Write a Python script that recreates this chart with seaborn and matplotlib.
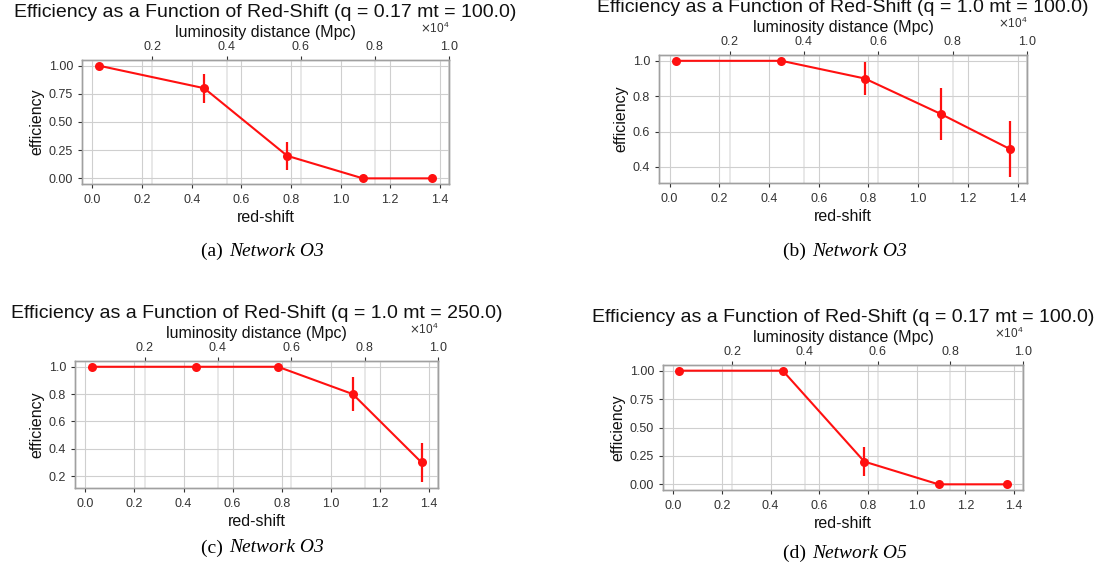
import numpy as np
import pandas as pd
import matplotlib
matplotlib.use("Agg")
import matplotlib.pyplot as plt
from matplotlib.ticker import MultipleLocator, ScalarFormatter
import seaborn as sns

# red-shift bins (same for every panel)
redshift = [0.025, 0.45, 0.785, 1.09, 1.37]

# efficiency values and error bars
eff_a = [1.0, 0.8, 0.2, 0.0, 0.0]
err_a = [0.0, 0.13, 0.125, 0.0, 0.0]
eff_b = [1.0, 1.0, 0.9, 0.7, 0.5]
err_b = [0.0, 0.0, 0.095, 0.145, 0.158]
eff_c = [1.0, 1.0, 1.0, 0.8, 0.3]
err_c = [0.0, 0.0, 0.0, 0.126, 0.145]
eff_d = [1.0, 1.0, 0.2, 0.0, 0.0]
err_d = [0.0, 0.0, 0.126, 0.0, 0.0]

titles = [
    "Efficiency as a Function of Red-Shift (q = 0.17 mt = 100.0)",
    "Efficiency as a Function of Red-Shift (q = 1.0 mt = 100.0)",
    "Efficiency as a Function of Red-Shift (q = 1.0 mt = 250.0)",
    "Efficiency as a Function of Red-Shift (q = 0.17 mt = 100.0)",
]
captions = [("(a)", "Network O3"), ("(b)", "Network O3"),
            ("(c)", "Network O3"), ("(d)", "Network O5")]
ystep = [0.25, 0.2, 0.2, 0.25]

# top axis range (luminosity distance, Mpc)
dl_range = (100, 10000)

sns.set_theme(style="whitegrid", rc={
    "axes.edgecolor": "#a0a0a0",
    "axes.linewidth": 1.0,
    "grid.color": "#cfcfcf",
    "grid.linewidth": 0.8,
    "xtick.bottom": True,
    "ytick.left": True,
    "xtick.major.size": 3,
    "ytick.major.size": 3,
    "xtick.major.width": 0.8,
    "ytick.major.width": 0.8,
    "xtick.color": "#333333",
    "ytick.color": "#333333",
    "text.color": "#111111",
    "axes.labelcolor": "#111111",
})
plt.rcParams["font.family"] = ["Liberation Sans", "DejaVu Sans"]

fig = plt.figure(figsize=(11.13, 5.76), dpi=100)
W, H = 1113, 576

# axes boxes in pixels: left, top, right, bottom
boxes = [(82, 60, 449, 184), (659, 55, 1027, 183),
         (75, 361, 438, 488), (663, 365, 1023, 490)]
data = [(eff_a, err_a), (eff_b, err_b), (eff_c, err_c), (eff_d, err_d)]
cap_pos = [(228, 251), (811, 251), (228, 548), (811, 553)]

for i in range(4):
    l, t, r, b = boxes[i]
    ax = fig.add_axes([l / W, (H - b) / H, (r - l) / W, (b - t) / H])
    eff, err = data[i]
    df = pd.DataFrame({"red-shift": redshift, "efficiency": eff})
    sns.lineplot(data=df, x="red-shift", y="efficiency", ax=ax, color="#ff1010",
                 marker="o", markersize=6.5, markeredgewidth=0, linewidth=1.5)
    ax.errorbar(redshift, eff, yerr=err, fmt="none", ecolor="#ff1010", elinewidth=1.6)
    ax.set_xlabel("red-shift", fontsize=11.5, labelpad=3)
    ax.set_ylabel("efficiency", fontsize=11.5, labelpad=3)
    ax.tick_params(axis="x", labelsize=9, pad=4)
    ax.tick_params(axis="y", labelsize=9, pad=3.5)
    ax.xaxis.set_major_locator(MultipleLocator(0.2))
    ax.yaxis.set_major_locator(MultipleLocator(ystep[i]))

    ax2 = ax.twiny()
    ax2.set_xlim(*dl_range)
    ax2.xaxis.set_major_locator(MultipleLocator(2000))
    fmt = ScalarFormatter(useMathText=True)
    fmt.set_powerlimits((0, 0))
    ax2.xaxis.set_major_formatter(fmt)
    ax2.xaxis.get_offset_text().set_fontsize(8.5)
    ax2.tick_params(axis="x", labelsize=9, pad=2, top=True, length=3)
    ax2.grid(True, axis="x", color="#e4e4e4", linewidth=1.2)
    ax2.grid(False, axis="y")
    ax2.set_xlabel("luminosity distance (Mpc)", fontsize=11.5, labelpad=2)
    ax2.set_title(titles[i], fontsize=14, pad=1)
    ax2.set_zorder(ax.get_zorder() - 1)
    ax.patch.set_visible(False)

    cx, cy = cap_pos[i]
    fig.text(cx / W, 1 - cy / H, captions[i][0] + " ", ha="right", va="center",
             family="Liberation Serif", fontsize=14, color="black")
    fig.text((cx + 1) / W, 1 - cy / H, captions[i][1], ha="left", va="center",
             family="Liberation Serif", style="italic", fontsize=14, color="black")

fig.savefig("out.png", dpi=100)
